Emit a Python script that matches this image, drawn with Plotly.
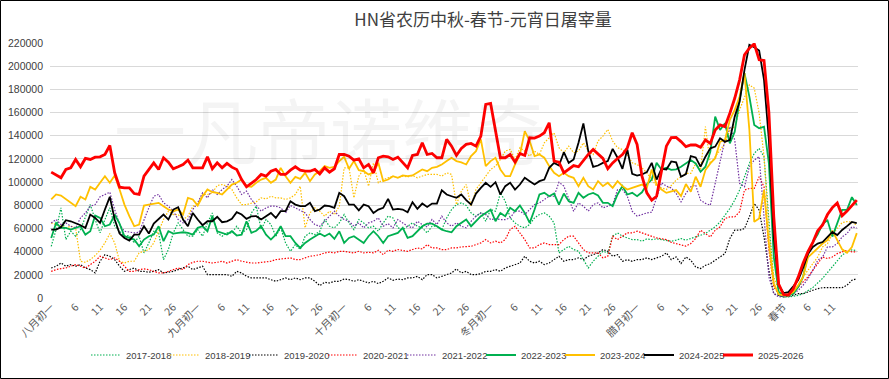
import plotly.graph_objects as go

# ---- category labels (lunar days) ----
months = ["八月", "九月", "十月", "冬月", "腊月"]
days_per_month = 30
n_after_spring = 16  # 正月初一 .. 正月十六

tick_text = []
for m in months:
    for d in range(1, days_per_month + 1):
        tick_text.append(m + "初一" if d == 1 else str(d))
for d in range(1, n_after_spring + 1):
    tick_text.append("春节" if d == 1 else str(d))
x_idx = list(range(len(tick_text)))

s2017 = [44600,59000,77800,50400,57600,53300,59000,70600,80600,67700,56200,67700,77800,61900,57600,53300,53900,47500,53300,38900,
         47500,57600,56200,33100,41800,56200,64800,59000,53300,53300,59000,53300,64800,73400,56200,53300,56200,56200,61900,56200,
         59000,73400,79200,59000,67700,63400,53300,60500,47500,40300,46100,41800,53300,56200,54700,57600,67700,61900,60500,64800,
         72000,64800,59000,67700,64800,60500,61900,57600,64800,70600,69100,60500,59000,61900,64800,61900,60500,56200,61900,61900,
         59000,69100,76300,80600,82100,79800,73400,70600,73400,66200,76300,74900,90700,83500,69100,64800,61900,60500,63400,69100,
         72000,73400,70600,64800,38900,41800,44600,41800,40300,33100,25900,31700,36000,40300,38900,53300,56200,53300,51800,50400,
         50400,49000,51000,50400,51000,50400,49800,49000,49900,51300,49900,51300,52700,54200,55600,58500,61400,65700,71500,77200,
         84400,93100,104600,116100,124800,129100,121900,64300,12400,2300,900,900,1500,2300,3700,6000,9000,13000,17000,22000,
         27000,32000,37000,40000,41500,41000]

s2018 = [64800,63400,61900,60500,61900,60500,31700,30800,33100,36600,41200,47500,55600,47500,31700,30200,31700,31700,38900,40300,
         41800,47500,57600,67700,74900,72000,72000,67700,70600,79200,80600,89300,89300,90700,97100,97900,96500,93600,86400,80600,
         80600,81500,83000,86400,85500,87800,86400,86400,85000,86400,89300,96500,60500,73400,77800,74900,70600,74900,72000,79200,
         112300,112300,86400,105100,110900,96500,116600,99400,102200,103700,105100,103700,105100,104500,105700,103700,105100,106600,106600,106600,
         105100,108000,106600,80600,92200,97900,79200,93600,99400,105100,110900,113800,119500,126700,128200,119500,129600,126700,122400,126700,
         123800,133900,138200,142600,129600,125300,131000,125300,126700,133900,126700,123800,135400,139700,145400,135400,129600,128200,123800,116600,
         115200,112300,108000,102200,96500,95000,93600,97000,101700,104600,107500,107500,116100,110400,147800,116100,121900,127700,133400,145000,
         147800,162300,173800,183900,181000,159400,121900,58500,18200,6600,2300,3700,6600,9500,18200,23900,29700,35400,44100,47000,
         55000,60000,65000,66000,65500,63000]

s2019 = [25900,27400,30200,27400,28800,27400,28800,25900,24500,21600,31700,37400,36000,33100,27400,23000,24500,25900,23000,23000,
         22200,23000,24500,21600,22200,23000,24500,25900,27400,24500,25900,27400,20200,20200,20700,20200,20200,18700,23000,21600,
         18700,17300,17300,17300,17300,15800,14400,15800,17300,15800,17300,15800,17300,17300,14400,10700,13500,13000,14400,14400,
         16400,15800,14400,15800,14400,13000,14400,12400,14400,17300,15300,16400,15800,17300,17300,18700,15800,20200,20200,17300,
         18700,20200,21600,25100,21600,23000,20200,20200,21000,23000,23000,24500,23000,25900,27400,28800,30200,36000,31700,30200,
         31700,28800,30200,33100,36000,31700,33100,33100,34600,33100,36000,37400,38900,41800,40300,36000,37400,31700,33100,31700,
         33100,33100,34600,33100,34600,36000,38900,33100,35400,29700,35400,32600,26800,25400,28200,29700,32600,35400,38300,51300,
         58500,58500,59900,70000,81600,75800,52700,23900,3700,2300,900,1400,2300,3700,3700,5200,6600,8100,8900,8900,
         9500,9500,8900,11000,15300,16700]

s2020 = [23000,24500,25300,25900,27400,28800,27400,25900,28800,31700,36000,34600,33100,34600,31700,27400,23000,23000,24500,25100,
         24500,23000,21600,21600,23000,24500,25900,24500,28800,30800,31700,31700,30800,30200,30800,31700,30200,31700,33100,31700,
         30800,30200,30200,30800,31700,31700,33100,33700,34600,34600,33100,33100,34600,36000,36600,37400,38900,39500,38900,40300,
         40300,39500,38900,40300,38900,39500,38900,41200,37400,41200,40300,41800,41200,40300,41800,43200,42300,46100,43200,43200,
         41800,41800,43200,43200,44100,44100,44600,46100,47500,50400,47500,49000,47500,50400,59000,61900,56200,50400,43200,43200,
         46100,47500,46100,46100,46100,50400,53300,53300,47500,41800,38900,38900,38900,34600,36000,53300,50400,53300,56200,56200,
         57600,56200,54700,53300,51800,51000,50400,48000,47000,45500,44700,47000,51300,58500,55600,52700,58500,61400,68600,70000,
         70000,74400,93100,94500,94500,104600,96000,41200,9500,3700,2300,3700,5200,9500,13800,18200,23900,29700,35400,34000,
         35400,38300,39800,41200,39800,39800]

s2021 = [64800,67700,63400,64800,61900,60500,69100,73400,79200,80600,87300,89300,91300,76300,63400,57600,56700,56200,56700,67700,
         77800,87800,89300,82100,79200,74900,67700,64800,67700,76300,82100,90700,86400,93600,89300,93600,96500,102200,96500,89300,
         92200,85000,80000,74900,77800,79200,79200,77800,73400,79800,77800,75700,73400,67700,63400,61900,66200,70600,74900,70600,
         67700,66200,61900,64800,60500,64800,66200,69100,61900,64200,60500,67700,64800,61900,60500,66200,63400,61300,67700,63400,
         70600,64800,61900,64800,61900,60500,66200,70600,73400,72000,67700,68300,67700,67700,69100,74900,74900,72000,76300,80600,
         82100,85000,87800,87800,99900,96500,85000,74900,82100,79200,74900,80600,82100,77800,79200,80600,93600,93600,87800,74900,
         70600,72000,73400,74000,86400,99400,96500,95000,90200,83000,90200,96000,97400,84400,81600,80100,98900,119000,136300,147800,
         136300,98900,96000,113300,119000,121900,70000,18200,3700,900,1400,2300,3700,6600,11000,16700,23900,32600,35400,44100,
         44100,47000,52700,55600,61400,60400]

s2022 = [51800,64800,60500,60500,59000,60500,61900,54700,57600,71100,69100,61900,63400,72000,64200,53300,51800,50400,44600,50400,
         53300,54700,61900,49000,57600,55600,56200,56700,56200,54700,60500,61900,57600,70600,57600,56200,54700,57600,53900,54700,
         66200,56200,58000,61900,54700,50400,54700,61900,53300,53300,47500,43200,47500,50400,53300,55600,53300,55600,51000,57600,
         47500,51800,53300,50400,47500,53300,57600,53300,47500,53300,54700,56200,60500,51800,53300,57600,61900,64200,64200,61900,
         59000,57600,56700,61900,64800,67700,61900,66200,70600,73400,76300,66200,73400,70600,77800,74900,79800,73400,64800,76300,
         89300,90700,87800,90100,80600,90100,83500,82100,90700,86400,89300,90700,88400,82100,82100,79200,89300,96500,89300,90700,
         87800,91200,98100,102200,116600,110900,112300,110600,111000,113300,116100,119000,116100,108900,113300,126200,156500,145000,150700,133400,
         143500,170900,194000,173800,149300,146400,147800,116100,35400,5200,2300,2300,3700,9500,18200,38000,48000,55000,64000,67000,
         53000,65000,76000,76000,87000,80200]

s2023 = [85000,89300,88400,85500,82700,79200,87300,85000,95900,93600,99400,105100,99400,105700,93600,80600,70600,61900,63400,79800,
         80600,81500,82100,79200,76300,74900,76300,72000,86400,85000,79800,87800,93600,91300,90700,89300,93600,97900,99400,102200,
         96500,96000,99400,102200,103700,99400,102200,112300,105100,99400,104500,102800,108000,100800,106600,109400,113800,112300,113200,118100,
         121800,111500,118100,110300,109400,106600,108000,116600,100800,102200,105100,103700,105700,105100,105700,108000,110900,109400,112300,113200,
         115200,118100,121000,118100,117000,115200,122400,126700,136800,113800,118100,121000,110900,105100,105100,115200,123800,144000,135400,122400,
         123800,121000,113800,108000,105100,108000,105100,103700,96500,103700,96500,93600,100800,96500,99400,95000,100800,96500,93600,95000,
         96500,97900,95000,110900,97900,93600,90700,92000,93100,87900,98300,91600,104600,96000,110400,116100,120500,134900,136300,153600,
         162300,173800,194000,145000,65700,68600,93100,47000,12400,3200,2300,2300,5200,11000,18200,35000,39000,43000,47000,50000,
         58000,50000,42000,39000,44000,56000]

s2024 = [59000,59000,61100,67100,66200,64800,62800,60500,72000,69100,64800,76300,87300,67700,55600,51800,49500,54700,54700,61900,
         55600,64200,67700,72000,67700,76300,78300,67700,61900,73400,67700,62800,66200,66200,70000,65400,66200,68300,74000,72000,
         68300,70500,70600,67700,70600,73400,69100,74900,74900,83500,80600,79200,79200,82100,74900,76300,79800,79200,77800,90700,
         87800,80600,80600,75700,80600,79200,73400,76300,77800,85500,76300,76900,76300,74000,82700,76900,81500,78600,81500,81500,
         93000,89300,87800,86400,89300,84400,80600,90100,95000,99400,95900,99900,89300,96500,99400,93600,97900,103700,100800,97900,
         100800,102200,112300,116600,114300,125800,116600,119500,134000,150600,126700,113200,114300,116600,118100,128700,121000,111500,128200,107100,
         105600,106600,108600,116600,102200,111500,110900,117800,117000,104600,106900,122500,121300,113300,121900,129100,130600,137800,134900,136300,
         156500,169500,196800,218500,216400,213600,188200,136300,52700,11000,4300,5000,10000,15500,26000,38000,44000,47000,48300,53000,
         57000,54300,58700,62000,65600,64700]

s2025 = [108600,106000,103700,110900,112300,119500,113200,120400,119500,121500,121800,123800,131600,108000,95600,95000,95000,90100,89300,105100,
         110900,116600,110900,121000,117200,111500,113200,115200,119000,112300,112300,112300,121800,111500,116600,112300,116100,112900,110900,102200,
         95900,99000,102200,106600,105100,109400,110900,106600,106600,110300,113200,110300,109400,109400,110900,107100,112300,108600,111500,123800,
         123800,122400,118900,120100,112300,115200,108000,121000,122400,121800,119500,121500,117200,112300,123000,123800,133900,123800,124700,121000,
         121000,136800,131000,123000,129000,132500,133300,131000,139700,167000,167900,145400,121000,121000,123800,117200,124700,123000,138200,137900,
         139700,142600,151200,118100,117200,108000,111500,114300,113200,118700,123800,128200,124700,120400,111500,116600,120400,123800,129600,142600,
         132500,105100,90700,84400,87800,108000,131000,138400,138600,134900,130600,132000,132000,130000,136300,133400,145000,149300,147800,159400,
         172300,188200,209800,215600,219300,205500,204900,160000,70000,12000,3000,2500,8000,18000,30000,40000,48000,58000,63000,72000,
         78000,82000,71000,75000,80000,84500]

series_names = ["2017-2018", "2018-2019", "2019-2020", "2020-2021", "2021-2022",
                "2022-2023", "2023-2024", "2024-2025", "2025-2026"]
series_values = [s2017, s2018, s2019, s2020, s2021, s2022, s2023, s2024, s2025]
series_colors = ["#00B050", "#FFC000", "#000000", "#FF0000", "#7030A0",
                 "#00B050", "#FFC000", "#000000", "#FF0000"]
series_dash = ["1.5px,1.5px"] * 5 + ["solid"] * 4
series_width = [1.2] * 5 + [1.8, 1.8, 1.8, 2.8]

fig = go.Figure()
for name, vals, col, dash, w in zip(series_names, series_values, series_colors, series_dash, series_width):
    fig.add_trace(go.Scatter(
        x=x_idx[:len(vals)], y=vals, name=name, mode="lines",
        line=dict(color=col, width=w, dash=dash),
    ))
# empty spacer entry so the last legend label is not clipped by the compact entry width
fig.add_trace(go.Scatter(x=[None], y=[None], name=" ", mode="lines", hoverinfo="skip",
                         line=dict(color="rgba(0,0,0,0)", width=0)))

tick_vals = [i for i in x_idx if i % 5 == 0 and i <= 160]
tick_lbls = [tick_text[i] for i in tick_vals]

font_family = "Liberation Sans, Noto Sans CJK SC, sans-serif"

fig.update_layout(
    width=889, height=379,
    margin=dict(l=50, r=31, t=43, b=81, autoexpand=False),
    paper_bgcolor="white", plot_bgcolor="white",
    font=dict(family=font_family, color="#595959", size=10.5),
    title=dict(text="HN省农历中秋-春节-元宵日屠宰量", x=483 / 889, xanchor="center",
               xref="container", yref="container",
               y=1 - 20 / 379, yanchor="middle",
               font=dict(size=17, color="#404040", family="Noto Sans CJK SC, sans-serif")),
    showlegend=True,
    legend=dict(orientation="h", x=(86 - 50) / 808, xanchor="left", y=(298 - 355) / 255, yanchor="middle",
                font=dict(size=9.5, color="#404040"), bgcolor="rgba(0,0,0,0)",
                entrywidth=34, entrywidthmode="pixels", itemwidth=30, tracegroupgap=0),
    xaxis=dict(range=[-0.25, len(x_idx) - 1 + 0.25], tickmode="array",
               tickvals=tick_vals, ticktext=tick_lbls, tickangle=-45,
               showgrid=False, zeroline=False, showline=False, ticks="",
               tickfont=dict(size=10.5, color="#595959", family="Noto Sans CJK SC, sans-serif")),
    yaxis=dict(range=[0, 220000], tickmode="linear", tick0=0, dtick=20000,
               showgrid=True, gridcolor="#D9D9D9", gridwidth=1, zeroline=False,
               showline=False, ticks="", tickformat="d", ticklabelstandoff=6,
               tickfont=dict(size=10.5, color="#404040")),
    annotations=[dict(text="一凡帝诺维奇", xref="paper", yref="paper",
                      x=(330 - 50) / 808, y=(298 - 127) / 255, xanchor="center", yanchor="middle",
                      showarrow=False,
                      font=dict(size=72, color="rgba(0,0,0,0.045)", family="Noto Sans CJK SC, sans-serif"))],
    shapes=[dict(type="rect", xref="paper", yref="paper",
                 x0=(0.5 - 50) / 808, x1=(888.5 - 50) / 808,
                 y0=(298 - 378.5) / 255, y1=(298 - 0.5) / 255,
                 line=dict(color="#000000", width=1), fillcolor="rgba(0,0,0,0)", layer="above")],
)

fig.write_html("out.html", config={"displayModeBar": False},
               post_script="document.body.style.margin='0';document.body.style.padding='0';")
